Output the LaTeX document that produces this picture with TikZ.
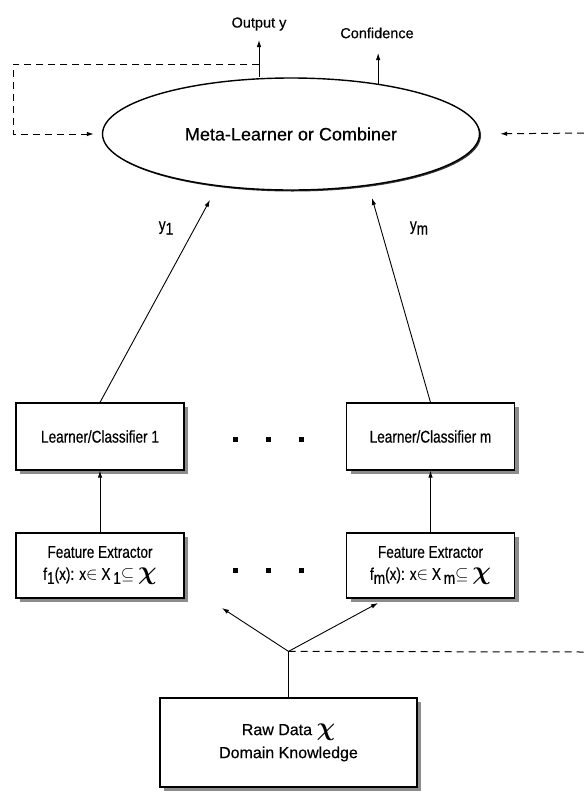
\documentclass[tikz,border=0pt]{standalone}
\usepackage{amsmath,amssymb}
\usepackage{fontspec}
\setmainfont[FakeBold=0.4]{Liberation Sans}
\newfontfamily\narrowsf[FakeStretch=0.8,FakeBold=0.4]{Liberation Sans}
\usetikzlibrary{shapes,arrows,positioning,calc,shadows,arrows.meta}
\newcommand{\lowsub}[1]{\raisebox{-0.45ex}{#1}}
\newcommand{\bigchi}{\scalebox{1.5}{$\boldsymbol{\chi}$}}

\begin{document}
\begin{tikzpicture}[x=1pt,y=-1pt,
    >={Latex[length=7pt,width=4.5pt]},
    every node/.style={inner sep=0pt},
    box/.style={draw, fill=white, line width=1.2pt, minimum width=168pt, align=center,
        drop shadow={shadow xshift=4pt, shadow yshift=-4pt, fill=black!45, opacity=1}},
    boxtext/.style={font={\narrowsf\fontsize{17}{21}\selectfont}},
    link/.style={->, line width=0.9pt},
    feedback/.style={->, line width=1pt, dash pattern=on 7pt off 5pt}]
    \useasboundingbox (0,0) rectangle (584,793);

    % Meta-learner
    \node[ellipse, draw, fill=white, line width=1.4pt, minimum width=377pt, minimum height=112pt,
        drop shadow={shadow xshift=1.5pt, shadow yshift=-1.5pt, fill=black!80, opacity=1},
        font=\fontsize{18}{22}\selectfont] (comb) at (291,134) {Meta-Learner or Combiner};

    % Outputs
    \coordinate (outy) at (259,40);
    \coordinate (conf) at (376,53);
    \draw[link] (outy |- comb.north) -- (outy);
    \draw[link] (comb.30) -- (comb.30 |- conf);
    \node[font=\fontsize{14.5}{17}\selectfont] (lout) at (259,24) {Output y};
    \node[font=\fontsize{14.5}{17}\selectfont] (lconf) at (377,33) {Confidence};

    % Feedback loops
    \coordinate (fb) at (259,64);
    \coordinate (lcorner) at (13,134);
    \coordinate (rin) at (584,133);
    \draw[feedback, shorten >=8pt] (fb) -| (lcorner) -- (comb.west);
    \draw[feedback, shorten >=20pt] (rin) -- (comb.east);

    % Learners
    \node[box, minimum height=67pt, boxtext] (lc1) at (100,436.5) {Learner/Classifier 1};
    \node[box, minimum height=67pt, boxtext] (lcm) at (430.5,436.5) {Learner/Classifier m};
    \coordinate (in1) at (210,200);
    \coordinate (inm) at (372,198);
    \draw[link] (lc1.north) -- (in1);
    \draw[link] (lcm.north) -- (inm);
    \node[boxtext] (y1) at (166,228) {y\lowsub{1}};
    \node[boxtext] (ym) at (419,228) {y\lowsub{m}};

    % Feature extractors
    \node[box, minimum height=65pt, boxtext] (fe1) at (100,565.5)
        {Feature Extractor\\[1pt] f\lowsub{1}(x): x$\in$ X\,\lowsub{1}$\subseteq$ \bigchi};
    \node[box, minimum height=65pt, boxtext] (fem) at (430.5,565.5)
        {Feature Extractor\\[1pt] f\lowsub{m}(x): x$\in$ X\,\lowsub{m}$\subseteq$ \bigchi};
    \draw[link] (fe1.north) -- (lc1.south);
    \draw[link] (fem.north) -- (lcm.south);

    % Dots between columns
    \foreach \x in {235,268,301} {
        \fill (\x-2.5,436.5) rectangle ++(5,5);
        \fill (\x-2.5,567.5) rectangle ++(5,5);
    }

    % Raw data
    \node[box, minimum width=257pt, minimum height=89pt, font=\fontsize{16}{23}\selectfont]
        (raw) at (288.5,742.5) {Raw Data \bigchi\\ Domain Knowledge};
    \coordinate[above=46pt of raw.north] (split);
    \coordinate (to1) at (222,608);
    \coordinate (tom) at (378,603);
    \coordinate (outr) at (584,652);
    \draw[line width=0.9pt] (raw.north) -- (split);
    \draw[link] (split) -- (to1);
    \draw[link] (split) -- (tom);
    \draw[line width=1pt, dash pattern=on 7pt off 5pt] (split) -- (outr);
\end{tikzpicture}
\end{document}
